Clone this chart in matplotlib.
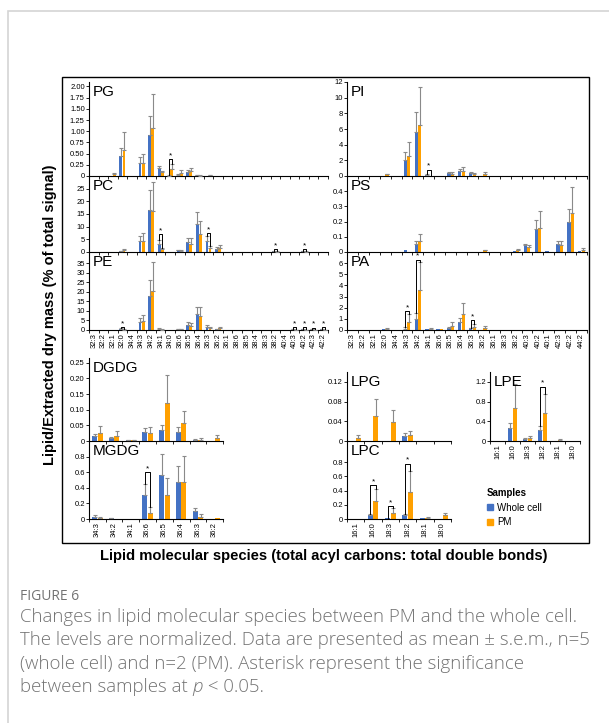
import matplotlib
matplotlib.use('Agg')
import matplotlib.pyplot as plt
import numpy as np
from matplotlib.patches import Patch, Rectangle

plt.rcParams['font.family'] = ['Liberation Sans', 'DejaVu Sans']

W, H = 609, 723
BLUE = '#4472C4'
ORANGE = '#FFA000'

# categories
cats_left = ['32:3', '32:2', '32:1', '32:0', '34:4', '34:3', '34:2', '34:1', '34:0',
             '36:6', '36:5', '36:4', '36:3', '36:2', '36:1', '38:6', '38:5', '38:4',
             '38:3', '38:2', '40:4', '40:3', '40:2', '42:3', '42:2']
cats_right = ['32:3', '32:2', '32:1', '32:0', '34:4', '34:3', '34:2', '34:1', '36:6',
              '36:5', '36:4', '36:3', '36:2', '36:1', '38:3', '38:2', '40:3', '40:2',
              '40:1', '42:3', '42:2', '44:2']
cats_gal = ['34:3', '34:2', '34:1', '36:6', '36:5', '36:4', '36:3', '36:2']
cats_lyso = ['16:1', '16:0', '18:3', '18:2', '18:1', '18:0']

# PG
pg_wc = [0, 0, 0, 0.45, 0, 0.30, 0.92, 0.17, 0.01, 0.03, 0.10, 0.02, 0, 0, 0, 0, 0, 0, 0, 0, 0, 0, 0, 0, 0]
pg_wc_err = [0, 0, 0, 0.18, 0, 0.12, 0.42, 0.06, 0.01, 0.02, 0.04, 0.01, 0, 0, 0, 0, 0, 0, 0, 0, 0, 0, 0, 0, 0]
pg_pm = [0, 0, 0.04, 0.57, 0, 0.30, 1.08, 0.08, 0.15, 0.07, 0.11, 0.01, 0.02, 0, 0, 0, 0, 0, 0, 0, 0, 0, 0, 0, 0]
pg_pm_err = [0, 0, 0.03, 0.41, 0, 0.20, 0.75, 0.04, 0.11, 0.06, 0.07, 0.01, 0.01, 0, 0, 0, 0, 0, 0, 0, 0, 0, 0, 0, 0]
pg_stars = [(8, 0.38)]

# PC
pc_wc = [0, 0, 0, 0.3, 0, 4.2, 16.7, 3.3, 0, 0.6, 3.8, 10.9, 4.5, 1.0, 0.1, 0.05, 0.05, 0.05, 0.05, 0.2, 0, 0, 0.2, 0, 0]
pc_wc_err = [0, 0, 0, 0.2, 0, 2.0, 7.6, 1.5, 0, 0.2, 1.7, 5.0, 1.8, 0.8, 0, 0, 0, 0, 0, 0.2, 0, 0, 0.2, 0, 0]
pc_pm = [0, 0, 0, 0.9, 0, 4.4, 16.3, 1.0, 0, 0.5, 3.3, 7.2, 1.6, 1.7, 0.1, 0.05, 0.05, 0.05, 0.05, 0.1, 0, 0, 0.1, 0, 0]
pc_pm_err = [0, 0, 0, 0.3, 0, 3.2, 11.2, 0.5, 0, 0.2, 2.3, 5.1, 0.9, 1.1, 0, 0, 0, 0, 0, 0.1, 0, 0, 0.1, 0, 0]
pc_stars = [(7, 7.0), (12, 7.5), (19, 1.0), (22, 1.0)]

# PE
pe_wc = [0, 0.1, 0.1, 0.5, 0, 4.2, 18.0, 0.5, 0, 0.3, 2.7, 8.4, 1.6, 0.3, 0, 0, 0, 0, 0, 0, 0, 0.3, 0.3, 0.3, 0.3]
pe_wc_err = [0, 0, 0, 0.3, 0, 2.0, 8.3, 0.4, 0, 0.2, 1.3, 3.9, 0.9, 0.2, 0, 0, 0, 0, 0, 0, 0, 0.2, 0.2, 0.2, 0.2]
pe_pm = [0, 0.1, 0.1, 0.2, 0, 4.6, 20.6, 0.2, 0, 0.3, 2.0, 7.1, 1.0, 1.0, 0, 0, 0, 0, 0, 0, 0, 0.15, 0.15, 0.15, 0.15]
pe_pm_err = [0, 0, 0, 0.1, 0, 3.4, 14.9, 0.1, 0, 0.1, 1.6, 5.1, 0.6, 0.5, 0, 0, 0, 0, 0, 0, 0, 0.1, 0.1, 0.1, 0.1]
pe_stars = [(3, 1.5), (21, 1.5), (22, 1.5), (23, 1.2), (24, 1.5)]

# PI
pi_wc = [0, 0.03, 0, 0.05, 0, 2.1, 5.6, 0.15, 0.05, 0.35, 0.7, 0.4, 0.05, 0, 0, 0, 0, 0, 0, 0, 0, 0]
pi_wc_err = [0, 0, 0, 0, 0, 1.0, 2.6, 0.1, 0, 0.1, 0.2, 0.1, 0, 0, 0, 0, 0, 0, 0, 0, 0, 0]
pi_pm = [0, 0.03, 0, 0.2, 0, 2.5, 6.5, 0.05, 0.05, 0.3, 0.7, 0.2, 0.3, 0, 0, 0, 0, 0, 0, 0, 0, 0]
pi_pm_err = [0, 0, 0, 0.1, 0, 1.9, 4.8, 0, 0, 0.2, 0.4, 0.2, 0.2, 0, 0, 0, 0, 0, 0, 0, 0, 0]
pi_stars = [(7, 0.8)]

# PS
ps_wc = [0, 0, 0, 0, 0, 0.012, 0.05, 0, 0, 0.003, 0.003, 0.003, 0.003, 0, 0.003, 0.005, 0.045, 0.15, 0.008, 0.05, 0.195, 0.005]
ps_wc_err = [0, 0, 0, 0, 0, 0, 0.025, 0, 0, 0, 0, 0, 0, 0, 0, 0, 0.01, 0.06, 0, 0.025, 0.085, 0]
ps_pm = [0, 0, 0, 0, 0, 0, 0.075, 0, 0, 0, 0.003, 0.003, 0.01, 0, 0.003, 0.01, 0.03, 0.155, 0, 0.045, 0.255, 0.015]
ps_pm_err = [0, 0, 0, 0, 0, 0, 0.045, 0, 0, 0, 0, 0, 0.005, 0, 0, 0.01, 0.015, 0.115, 0, 0.03, 0.175, 0.01]
ps_stars = []

# PA
pa_wc = [0, 0, 0, 0.08, 0, 0.1, 1.0, 0.05, 0.05, 0.2, 0.75, 0.15, 0.02, 0, 0, 0, 0, 0, 0, 0, 0, 0]
pa_wc_err = [0, 0, 0, 0, 0, 0.2, 0.5, 0, 0, 0.1, 0.3, 0.05, 0, 0, 0, 0, 0, 0, 0, 0, 0, 0]
pa_pm = [0, 0, 0, 0.12, 0, 0.75, 3.6, 0.1, 0.05, 0.4, 1.45, 0.3, 0.2, 0, 0, 0, 0, 0, 0, 0, 0, 0]
pa_pm_err = [0, 0, 0, 0.03, 0, 0.65, 2.5, 0.1, 0, 0.3, 1.0, 0.2, 0.2, 0, 0, 0, 0, 0, 0, 0, 0, 0]
pa_stars = [(5, 1.7), (6, 6.3), (11, 0.9)]

# DGDG / MGDG
dgdg_wc = [0.015, 0.008, 0.002, 0.028, 0.035, 0.030, 0.004, 0.001]
dgdg_wc_err = [0.007, 0.004, 0.001, 0.014, 0.017, 0.015, 0.002, 0]
dgdg_pm = [0.027, 0.016, 0.002, 0.024, 0.120, 0.056, 0.003, 0.010]
dgdg_pm_err = [0.021, 0.016, 0.001, 0.020, 0.090, 0.041, 0.005, 0.008]
mgdg_wc = [0.03, 0.01, 0, 0.31, 0.57, 0.47, 0.10, 0.005]
mgdg_wc_err = [0.02, 0.005, 0, 0.14, 0.26, 0.21, 0.04, 0]
mgdg_pm = [0.015, 0.005, 0, 0.08, 0.31, 0.48, 0.03, 0.008]
mgdg_pm_err = [0.01, 0, 0, 0.07, 0.21, 0.33, 0.04, 0]
mgdg_stars = [(3, 0.6)]

# lyso lipids
lpg_wc = [0, 0, 0, 0.011, 0, 0]
lpg_wc_err = [0, 0, 0, 0.005, 0, 0]
lpg_pm = [0.007, 0.05, 0.038, 0.013, 0, 0]
lpg_pm_err = [0.005, 0.035, 0.025, 0.007, 0, 0]
lpc_wc = [0.002, 0.05, 0.01, 0.05, 0.01, 0.002]
lpc_wc_err = [0, 0.02, 0, 0.02, 0, 0]
lpc_pm = [0.003, 0.26, 0.09, 0.38, 0.02, 0.05]
lpc_pm_err = [0, 0.17, 0.07, 0.29, 0.01, 0.04]
lpc_stars = [(1, 0.48), (2, 0.18), (3, 0.78)]
lpe_wc = [0, 0.26, 0.05, 0.22, 0.01, 0]
lpe_wc_err = [0, 0.11, 0.02, 0.08, 0, 0]
lpe_pm = [0, 0.67, 0.07, 0.57, 0.03, 0]
lpe_pm_err = [0, 0.48, 0.03, 0.38, 0.02, 0]
lpe_stars = [(3, 1.1)]

fig = plt.figure(figsize=(W / 100, H / 100), dpi=100)


def add_ax(x0, y0, x1, y1):
    return fig.add_axes([x0 / W, 1 - y1 / H, (x1 - x0) / W, (y1 - y0) / H])


def panel(ax, cats, wc, wce, pm, pme, ymax, yticks, ylabels, name, stars, show_labels=True):
    n = len(cats)
    x = np.arange(n)
    wc, wce, pm, pme = map(np.array, (wc, wce, pm, pme))
    off, bw = 0.16, 0.3
    ax.bar(x - off, wc, bw, color=BLUE, zorder=2)
    ax.bar(x + off, pm, bw, color=ORANGE, zorder=2)
    for xs, v, e in ((x - off, wc, wce), (x + off, pm, pme)):
        m = e > 0
        ax.errorbar(xs[m], v[m], yerr=[np.zeros(m.sum()), e[m]], fmt='none',
                    ecolor='#8a8a8a', elinewidth=0.8, capsize=1.2, capthick=0.8, zorder=3)
    for i, h in stars:
        yb = wc[i] + wce[i]
        yo = pm[i] + pme[i]
        ax.plot([i - off, i - off, i + off, i + off], [yb, h, h, yo], color='k', lw=0.7, zorder=4)
        ax.text(i, h, '*', ha='center', va='bottom', fontsize=6)
    ax.set_xlim(-0.5, n - 0.5)
    ax.set_ylim(0, ymax)
    ax.set_yticks(yticks)
    ax.set_yticklabels(ylabels)
    ax.set_xticks(x)
    if show_labels:
        ax.set_xticklabels(cats, rotation=90)
    else:
        ax.set_xticklabels([])
    ax.set_xticks(np.arange(n + 1) - 0.5, minor=True)
    ax.tick_params(axis='x', which='major', length=0, labelsize=5.5, pad=2)
    ax.tick_params(axis='x', which='minor', length=2, width=0.6)
    ax.tick_params(axis='y', length=2, width=0.6, labelsize=5.5, pad=1)
    for s in ('top', 'right'):
        ax.spines[s].set_visible(False)
    for s in ('left', 'bottom'):
        ax.spines[s].set_linewidth(0.8)
    ax.patch.set_alpha(0)
    ax.annotate(name, xy=(0, 1), xycoords='axes fraction', xytext=(3, -2),
                textcoords='offset points', fontsize=11, va='top', ha='left')


# top left column
panel(add_ax(89, 82, 328, 176), cats_left, pg_wc, pg_wc_err, pg_pm, pg_pm_err, 2.1,
      np.arange(0, 2.01, 0.25), ['0'] + ['%.2f' % v for v in np.arange(0.25, 2.01, 0.25)],
      'PG', pg_stars, False)
panel(add_ax(89, 176, 328, 252), cats_left, pc_wc, pc_wc_err, pc_pm, pc_pm_err, 30,
      [0, 5, 10, 15, 20, 25], ['0', '5', '10', '15', '20', '25'], 'PC', pc_stars, False)
panel(add_ax(89, 252, 328, 330), cats_left, pe_wc, pe_wc_err, pe_pm, pe_pm_err, 41,
      [0, 5, 10, 15, 20, 25, 30, 35], ['0', '5', '10', '15', '20', '25', '30', '35'],
      'PE', pe_stars, True)

# top right column
panel(add_ax(347, 82, 587, 176), cats_right, pi_wc, pi_wc_err, pi_pm, pi_pm_err, 12,
      [0, 2, 4, 6, 8, 10, 12], ['0', '2', '4', '6', '8', '10', '12'], 'PI', pi_stars, False)
panel(add_ax(347, 176, 587, 252), cats_right, ps_wc, ps_wc_err, ps_pm, ps_pm_err, 0.5,
      [0, 0.1, 0.2, 0.3, 0.4], ['0', '0.1', '0.2', '0.3', '0.4'], 'PS', ps_stars, False)
panel(add_ax(347, 252, 587, 330), cats_right, pa_wc, pa_wc_err, pa_pm, pa_pm_err, 7,
      [0, 1, 2, 3, 4, 5, 6], ['0', '1', '2', '3', '4', '5', '6'], 'PA', pa_stars, True)

# galactolipids
panel(add_ax(89, 358, 223, 441), cats_gal, dgdg_wc, dgdg_wc_err, dgdg_pm, dgdg_pm_err, 0.265,
      [0, 0.05, 0.10, 0.15, 0.20, 0.25], ['0', '0.05', '0.10', '0.15', '0.20', '0.25'],
      'DGDG', [], False)
panel(add_ax(89, 441, 223, 519), cats_gal, mgdg_wc, mgdg_wc_err, mgdg_pm, mgdg_pm_err, 1.0,
      [0, 0.2, 0.4, 0.6, 0.8], ['0', '0.2', '0.4', '0.6', '0.8'], 'MGDG', mgdg_stars, True)

# lyso lipids
panel(add_ax(347, 372, 451, 441), cats_lyso, lpg_wc, lpg_wc_err, lpg_pm, lpg_pm_err, 0.14,
      [0, 0.04, 0.08, 0.12], ['0', '0.04', '0.08', '0.12'], 'LPG', [], False)
panel(add_ax(347, 441, 451, 519), cats_lyso, lpc_wc, lpc_wc_err, lpc_pm, lpc_pm_err, 1.1,
      [0, 0.2, 0.4, 0.6, 0.8], ['0', '0.2', '0.4', '0.6', '0.8'], 'LPC', lpc_stars, True)
panel(add_ax(490, 372, 580, 441), cats_lyso, lpe_wc, lpe_wc_err, lpe_pm, lpe_pm_err, 1.4,
      [0, 0.4, 0.8, 1.2], ['0', '0.4', '0.8', '1.2'], 'LPE', lpe_stars, True)

# legend
fig.legend(handles=[Patch(color=BLUE, label='Whole cell'), Patch(color=ORANGE, label='PM')],
           title='Samples', loc='upper left', bbox_to_anchor=(478 / W, 1 - 479 / H),
           frameon=False, fontsize=7, handlelength=0.6, handleheight=0.6, handletextpad=0.5,
           labelspacing=0.5, alignment='left', title_fontproperties={'weight': 'bold', 'size': 7})

# frames
fig.add_artist(Rectangle((62 / W, 1 - 543 / H), (589 - 62) / W, (543 - 77) / H,
                         transform=fig.transFigure, fill=False, ec='black', lw=1))
fig.add_artist(Rectangle((8 / W, -0.2), 1.2, 1.2 - 11 / H, transform=fig.transFigure,
                         fill=False, ec='#d4d4d4', lw=1.2))

# axis titles
fig.text(50 / W, 1 - 315 / H, 'Lipid/Extracted dry mass (% of total signal)', rotation=90,
         ha='center', va='center', fontsize=10.5, fontweight='bold')
fig.text(324 / W, 1 - 556 / H, 'Lipid molecular species (total acyl carbons: total double bonds)',
         ha='center', va='center', fontsize=10.6, fontweight='bold')

# caption
cap = dict(family='Open Sans', color='#737373', ha='left', va='center')
fig.text(20 / W, 1 - 596 / H, 'FIGURE 6', fontsize=10, **cap)
lines = ['Changes in lipid molecular species between PM and the whole cell.',
         'The levels are normalized. Data are presented as mean \u00b1 s.e.m., n=5',
         '(whole cell) and n=2 (PM). Asterisk represent the significance']
for k, t in enumerate(lines):
    fig.text(20 / W, 1 - (617 + 23.4 * k) / H, t, fontsize=13.4, fontweight='light', **cap)

# last line with italic p, pieced together
renderer = fig.canvas.get_renderer()
xpos = 20
yl = 1 - (617 + 23.4 * 3) / H
for t, style in (('between samples at ', 'normal'), ('p', 'italic'), (' < 0.05.', 'normal')):
    txt = fig.text(xpos / W, yl, t, fontsize=13.4, fontweight='light', fontstyle=style, **cap)
    xpos += txt.get_window_extent(renderer).width

fig.savefig('out.png', dpi=100)
